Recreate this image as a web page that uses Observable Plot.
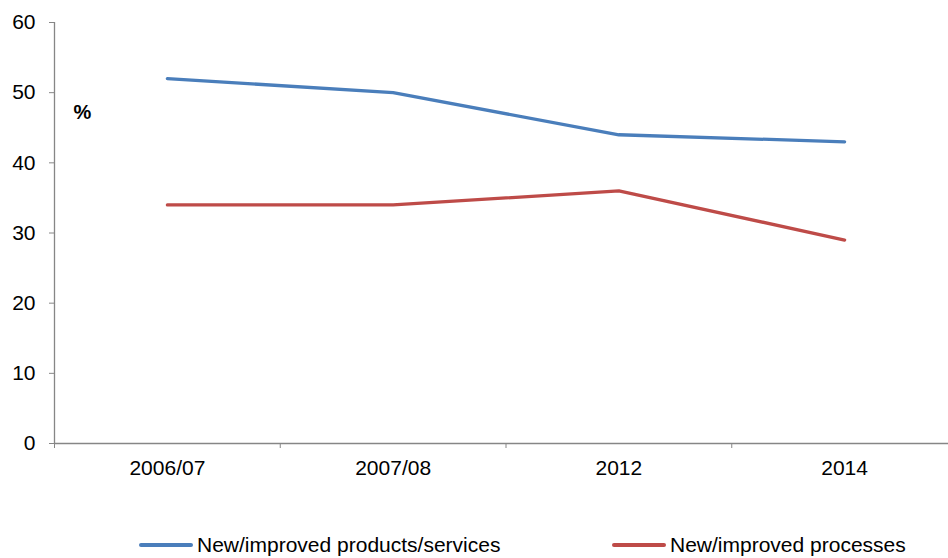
<!DOCTYPE html>
<html>
<head>
<meta charset="utf-8">
<script src="https://cdn.jsdelivr.net/npm/d3@7"></script>
<script src="https://cdn.jsdelivr.net/npm/@observablehq/plot@0.6"></script>
<style>
  body { margin: 0; background: #fff; overflow: hidden; font-family: "Liberation Sans", Arial, sans-serif; }
  #wrap { position: relative; width: 948px; height: 558px; overflow: hidden; }
  #chart svg { display: block; overflow: hidden; }
  .leg { position: absolute; top: 532px; height: 26px; display: flex; align-items: center; font-size: 21px; color: #000; white-space: nowrap; }
  .sw { width: 54px; height: 3.5px; border-radius: 2px; margin-right: 4px; }
</style>
</head>
<body>
<div id="wrap">
  <div id="chart"></div>
</div>
<script>
const categories = ["2006/07", "2007/08", "2012", "2014"];
const productsServices = [52, 50, 44, 43];
const processes = [34, 34, 36, 29];
const seriesNames = ["New/improved products/services", "New/improved processes"];
const seriesColors = ["#4a7ebb", "#be4b48"];
const yTicks = [0, 10, 20, 30, 40, 50, 60];
const unitLabel = "%";

const seriesValues = [productsServices, processes];
const data = [];
seriesValues.forEach((vals, s) => {
  vals.forEach((v, i) => data.push({ series: seriesNames[s], idx: i + 0.5, value: v }));
});
const boundaries = d3.range(categories.length + 1);
const centers = categories.map((c, i) => i + 0.5);

const axisGray = "#868686";

const plot = Plot.plot({
  width: 948,
  height: 490,
  marginLeft: 54,
  marginRight: -9,
  marginTop: 22,
  marginBottom: 47,
  style: { fontFamily: "Liberation Sans, Arial, sans-serif", fontSize: "21px", color: "#000", background: "#fff" },
  x: { type: "linear", domain: [0, categories.length], axis: null },
  y: { domain: [0, 60], axis: null },
  color: { domain: seriesNames, range: seriesColors },
  marks: [
    Plot.axisY({ ticks: yTicks, tickSize: 5, tickPadding: 14, stroke: axisGray, fill: "#000", fontSize: 21, label: null }),
    Plot.axisX({ ticks: boundaries, tickSize: 5, tickFormat: () => "", stroke: axisGray, label: null }),
    Plot.axisX({ ticks: centers, tickSize: 0, tickPadding: 17, tickFormat: d => categories[Math.floor(d)], fill: "#000", fontSize: 21, label: null }),
    Plot.ruleX([0], { stroke: axisGray, strokeWidth: 1.3 }),
    Plot.ruleY([0], { stroke: axisGray, strokeWidth: 1.3 }),
    Plot.line(data, { x: "idx", y: "value", z: "series", stroke: "series", strokeWidth: 3.3, strokeLinecap: "round", strokeLinejoin: "round" }),
    Plot.text([unitLabel], { frameAnchor: "top-left", dx: 19, dy: 82, text: d => d, textAnchor: "start", fontWeight: "bold", fontSize: 20, fill: "#000" })
  ]
});
document.getElementById("chart").appendChild(plot);

const wrap = document.getElementById("wrap");
const legendLefts = [139, 612];
seriesNames.forEach((name, i) => {
  const item = document.createElement("div");
  item.className = "leg";
  item.style.left = legendLefts[i] + "px";
  const sw = document.createElement("div");
  sw.className = "sw";
  sw.style.background = seriesColors[i];
  const tx = document.createElement("span");
  tx.textContent = name;
  item.appendChild(sw);
  item.appendChild(tx);
  wrap.appendChild(item);
});
</script>
</body>
</html>
